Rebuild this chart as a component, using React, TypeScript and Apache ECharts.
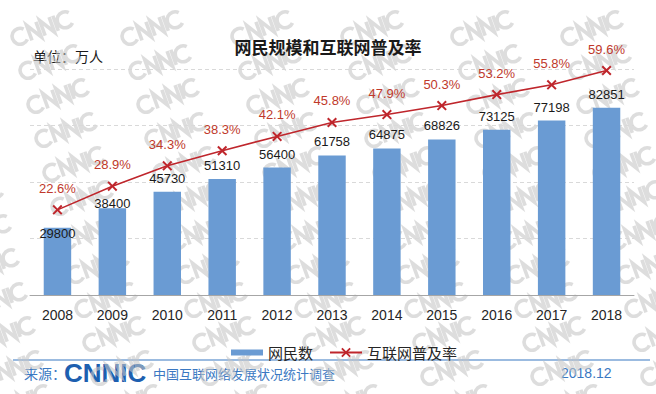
import React, { useEffect, useRef } from "react";
import * as echarts from "echarts";

const years = ["2008", "2009", "2010", "2011", "2012", "2013", "2014", "2015", "2016", "2017", "2018"];
const netizens = [29800, 38400, 45730, 51310, 56400, 61758, 64875, 68826, 73125, 77198, 82851];
const penetration = [22.6, 28.9, 34.3, 38.3, 42.1, 45.8, 47.9, 50.3, 53.2, 55.8, 59.6];
const seriesNames = ["网民数", "互联网普及率"];

const FONT = '"Liberation Sans", Arial, "Noto Sans CJK SC", sans-serif';
const CJK = '"Noto Sans CJK SC", "Liberation Sans", sans-serif';
const BLUE_TXT = "#3a78c2";

const MARK_PATH =
  "M15,4.5A8,8 0 1 0 15,15.5M19,18L19,2L29,18L29,2M33,18L33,2L43,18L43,2M47,2L47,18M63,4.5A8,8 0 1 0 63,15.5";
let registered = false;
function ensureShape() {
  if (registered) return;
  echarts.graphic.registerShape("cnnicMark", echarts.graphic.extendPath(MARK_PATH, {}));
  registered = true;
}

function watermarks() {
  const items: any[] = [];
  for (let j = 0; j < 13; j++) {
    for (let i = -1; i < 7; i++) {
      items.push({
        type: "cnnicMark",
        x: 8 + 110 * i + 8 * j,
        y: 30 + 34 * j,
        rotation: 0.35,
        silent: true,
        style: {
          fill: "none",
          stroke: "#c4c4c4",
          lineWidth: 3.6,
          opacity: 0.58,
        },
      });
    }
  }
  return { type: "group", z: 100, silent: true, children: items };
}

export default function App() {
  const ref = useRef<HTMLDivElement>(null);
  useEffect(() => {
    ensureShape();
    const chart = echarts.init(ref.current!, null, { renderer: "svg" });
    const xMark = "path://M0,1.4L1.4,0L5,3.6L8.6,0L10,1.4L6.4,5L10,8.6L8.6,10L5,6.4L1.4,10L0,8.6L3.6,5Z";
    chart.setOption({
      animation: false,
      backgroundColor: "#ffffff",
      textStyle: { fontFamily: FONT },
      title: {
        text: "网民规模和互联网普及率",
        left: "center",
        top: 33,
        textStyle: { fontFamily: CJK, fontSize: 17, fontWeight: "bold", color: "#1a1a1a" },
      },
      legend: {
        left: 226,
        top: 340,
        itemWidth: 32,
        itemHeight: 12,
        itemGap: 16,
        textStyle: { fontFamily: CJK, fontSize: 15, color: "#262626" },
        data: [
          { name: seriesNames[0], icon: "path://M0,0H32V6H0Z" },
          { name: seriesNames[1] },
        ],
      },
      grid: { left: 30, right: 22, top: 69, bottom: 99 },
      xAxis: {
        type: "category",
        data: years,
        axisLine: { lineStyle: { color: "#a6a6a6", width: 1 } },
        axisTick: { inside: true, length: 6, lineStyle: { color: "#a6a6a6" } },
        axisLabel: { fontSize: 14, color: "#262626", margin: 13, fontFamily: FONT },
      },
      yAxis: [
        {
          type: "value",
          min: 0,
          max: 100000,
          interval: 25000,
          axisLabel: { show: false },
          axisLine: { show: false },
          axisTick: { show: false },
          splitLine: { lineStyle: { color: "#d9d9d9", type: [4, 3] } },
        },
        {
          type: "value",
          min: 0,
          max: 60,
          interval: 15,
          axisLabel: { show: false },
          axisLine: { show: false },
          axisTick: { show: false },
          splitLine: { show: false },
        },
      ],
      series: [
        {
          name: seriesNames[0],
          type: "bar",
          barWidth: "50%",
          itemStyle: { color: "#6a9bd3" },
          label: { show: true, position: "top", distance: 7, fontSize: 13, color: "#1a1a1a", fontFamily: FONT },
          data: netizens.map((v, i) => {
            if (i === 0) return { value: v, label: { offset: [0, 19] } };
            if (i === 1) return { value: v, label: { offset: [0, 9] } };
            return v;
          }),
          z: 2,
        },
        {
          name: seriesNames[1],
          type: "line",
          yAxisIndex: 1,
          symbol: xMark,
          symbolSize: 10,
          itemStyle: { color: "#bf262c" },
          lineStyle: { color: "#bf262c", width: 1.6 },
          label: {
            show: true,
            position: "top",
            distance: 10,
            fontSize: 13,
            color: "#c0392b",
            fontFamily: FONT,
            formatter: "{c}%",
          },
          data: penetration,
          z: 3,
        },
      ],
      graphic: [
        {
          type: "text",
          left: 33,
          top: 49,
          style: { text: "单位：万人", font: `14px ${CJK}`, fill: "#1a1a1a" },
        },
        {
          type: "line",
          shape: { x1: 13, y1: 360, x2: 650, y2: 360 },
          style: { stroke: "#7aa5d6", lineWidth: 1.5 },
        },
        {
          type: "text",
          x: 24,
          y: 373,
          style: { text: "来源：", font: `14px ${CJK}`, fill: BLUE_TXT, verticalAlign: "middle" },
        },
        {
          type: "text",
          x: 64,
          y: 373,
          style: {
            text: "CNNIC",
            font: 'bold 26px "Liberation Sans", Arial, sans-serif',
            fill: "#1d5fb0",
            verticalAlign: "middle",
          },
        },
        {
          type: "text",
          x: 153,
          y: 373,
          style: { text: "中国互联网络发展状况统计调查", font: `13px ${CJK}`, fill: BLUE_TXT, verticalAlign: "middle" },
        },
        {
          type: "text",
          x: 561,
          y: 373,
          style: { text: "2018.12", font: `14px ${FONT}`, fill: BLUE_TXT, verticalAlign: "middle" },
        },
        watermarks(),
      ],
    });
    return () => chart.dispose();
  }, []);
  return <div ref={ref} style={{ position: "fixed", left: 0, top: 0, width: 656, height: 394 }} />;
}
